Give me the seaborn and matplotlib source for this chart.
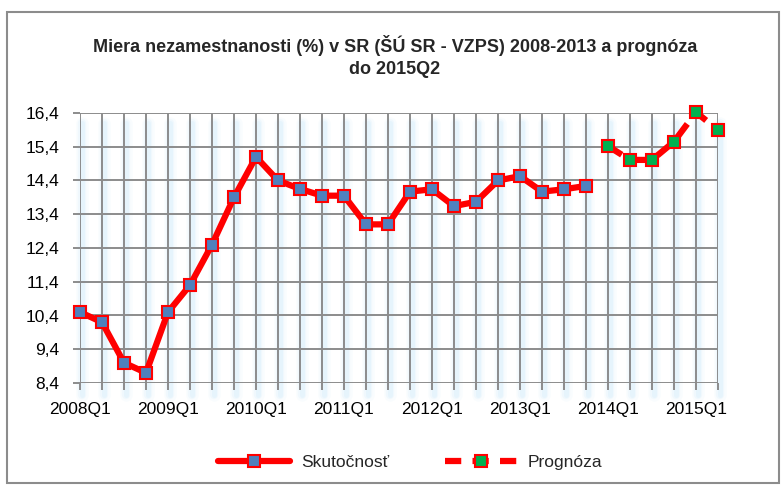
import matplotlib
matplotlib.use("Agg")
import matplotlib.pyplot as plt
import seaborn as sns
import pandas as pd
from matplotlib.patches import Rectangle
from matplotlib.ticker import FixedLocator, FuncFormatter

# ---- data ----
quarters = [f"{y}Q{q}" for y in range(2008, 2016) for q in range(1, 5)][:30]
actual_values = [10.5, 10.2, 9.0, 8.7, 10.5, 11.3, 12.5, 13.9, 15.1,
                 14.4, 14.15, 13.95, 13.95, 13.1, 13.1, 14.07, 14.14,
                 13.64, 13.77, 14.4, 14.53, 14.07, 14.14, 14.24]
forecast_values = [15.42, 15.01, 15.01, 15.55, 16.42, 15.9]
y_ticks = [8.4, 9.4, 10.4, 11.4, 12.4, 13.4, 14.4, 15.4, 16.4]
title = "Miera nezamestnanosti (%) v SR (ŠÚ SR - VZPS) 2008-2013 a prognóza\ndo 2015Q2"
label_actual = "Skutočnosť"
label_forecast = "Prognóza"

sns.set_theme(style="white")
fam = ["Liberation Sans Narrow", "Liberation Sans", "DejaVu Sans"]
plt.rcParams["font.family"] = fam

df_a = pd.DataFrame({"i": list(range(len(actual_values))), "v": actual_values})
n_a = len(actual_values)
df_f = pd.DataFrame({"i": list(range(n_a, n_a + len(forecast_values))), "v": forecast_values})

fig = plt.figure(figsize=(7.84, 4.86), dpi=100)
ax = fig.add_axes([80/784, 1-383/486, (718-80)/784, (383-113)/486])

n = len(quarters)
# soft glow behind vertical grid lines (extends a bit beyond the plot)
for i in range(n):
    for off, w, a in [(0.10, 9, 0.06), (0.10, 6, 0.09), (0.08, 3.5, 0.12)]:
        ax.plot([i + off, i + off], [8.05, 16.1], color="#9fd8f5", lw=w,
                alpha=a, zorder=0, clip_on=False, solid_capstyle="round")
# grid
for i in range(n):
    ax.axvline(i, color="#8c8c8c", lw=1.4, zorder=1)
for t in y_ticks:
    ax.axhline(t, color="#8c8c8c", lw=1.4, zorder=1)

red = "#ff0000"
sns.lineplot(data=df_a, x="i", y="v", ax=ax, color=red, lw=4.5, marker="s",
             markersize=9, markerfacecolor="#4f81bd", markeredgecolor=red,
             markeredgewidth=1.5, label=label_actual, zorder=3, clip_on=False)
sns.lineplot(data=df_f, x="i", y="v", ax=ax, color=red, lw=4.5, marker="s",
             markersize=9, markerfacecolor="#00b050", markeredgecolor=red,
             markeredgewidth=1.5, label=label_forecast, zorder=3, clip_on=False,
             linestyle=(0, (2.6, 1.8)))

ax.set_xlim(0, n - 1)
ax.set_ylim(8.4, 16.4)
ax.set_xlabel("")
ax.set_ylabel("")
ax.xaxis.set_major_locator(FixedLocator(list(range(n))))
ax.set_xticklabels([q if q.endswith("Q1") else "" for q in quarters])
ax.yaxis.set_major_locator(FixedLocator(y_ticks))
ax.yaxis.set_major_formatter(FuncFormatter(lambda v, p: f"{v:.1f}".replace(".", ",")))
ax.tick_params(axis="both", length=5, width=1.4, color="#8c8c8c", labelsize=12.5,
               labelcolor="black", direction="out")
ax.tick_params(axis="x", bottom=True, pad=9)
ax.tick_params(axis="y", left=True, pad=10)
for s in ax.spines.values():
    s.set_visible(False)

fig.suptitle(title, fontsize=13, fontweight="bold", y=1-35/486, va="top",
             x=395/784, linespacing=1.35)

h, l = ax.get_legend_handles_labels()
ax.get_legend().remove()
fig.legend(h, l, loc="center", bbox_to_anchor=(410/784, 1-462/486), ncol=2,
           frameon=False, fontsize=12.5, handlelength=4.2, columnspacing=3.2,
           handletextpad=0.6)

fig.patches.append(Rectangle((7/784, 3/486), (779-7)/784, (474-3)/486,
                             transform=fig.transFigure, fill=False,
                             edgecolor="#8c8c8c", lw=1.5))

fig.savefig("out.png", dpi=100)
